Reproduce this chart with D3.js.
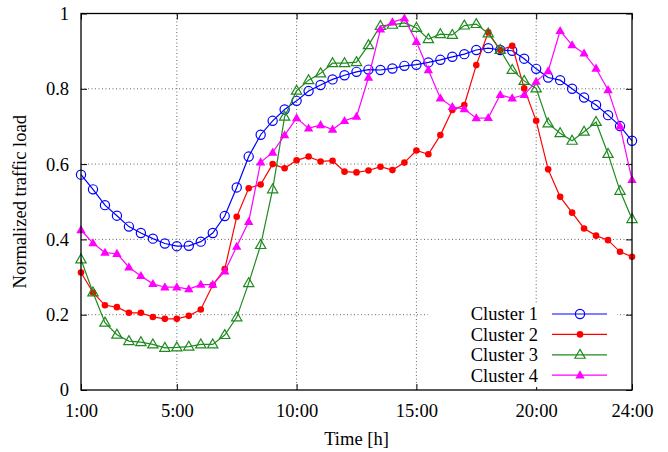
<!DOCTYPE html>
<html><head><meta charset="utf-8">
<script src="https://cdn.jsdelivr.net/npm/d3@7"></script>
<style>body{margin:0;background:#fff}svg{display:block}text{font-family:"Liberation Serif","Times New Roman",serif;fill:#000}</style>
</head><body>
<script>
const hours = [1,1.5,2,2.5,3,3.5,4,4.5,5,5.5,6,6.5,7,7.5,8,8.5,9,9.5,10,10.5,11,11.5,12,12.5,13,13.5,14,14.5,15,15.5,16,16.5,17,17.5,18,18.5,19,19.5,20,20.5,21,21.5,22,22.5,23,23.5,24];
const cluster1 = [0.572,0.533,0.491,0.463,0.434,0.417,0.402,0.389,0.382,0.383,0.394,0.417,0.462,0.538,0.620,0.678,0.715,0.745,0.768,0.794,0.810,0.825,0.836,0.845,0.851,0.850,0.854,0.861,0.864,0.870,0.877,0.885,0.892,0.903,0.908,0.903,0.901,0.880,0.853,0.830,0.823,0.800,0.777,0.757,0.730,0.701,0.662];
const cluster2 = [0.312,0.259,0.225,0.220,0.205,0.205,0.194,0.189,0.189,0.197,0.214,0.279,0.321,0.460,0.536,0.546,0.600,0.589,0.610,0.620,0.607,0.609,0.580,0.578,0.583,0.593,0.584,0.604,0.636,0.626,0.677,0.744,0.757,0.863,0.950,0.903,0.914,0.801,0.715,0.586,0.513,0.471,0.429,0.410,0.398,0.367,0.354];
const cluster3 = [0.347,0.259,0.179,0.147,0.130,0.127,0.121,0.112,0.113,0.115,0.121,0.121,0.146,0.193,0.284,0.385,0.533,0.726,0.795,0.823,0.841,0.868,0.868,0.871,0.916,0.967,0.970,0.975,0.962,0.932,0.945,0.943,0.968,0.972,0.947,0.903,0.850,0.821,0.801,0.708,0.682,0.662,0.686,0.712,0.627,0.529,0.454];
const cluster4 = [0.425,0.390,0.365,0.362,0.326,0.303,0.282,0.273,0.273,0.268,0.280,0.280,0.315,0.381,0.447,0.605,0.631,0.677,0.722,0.695,0.704,0.692,0.715,0.726,0.830,0.958,0.977,0.987,0.925,0.850,0.775,0.752,0.746,0.722,0.723,0.784,0.775,0.784,0.819,0.847,0.954,0.916,0.894,0.854,0.797,0.701,0.558];
const seriesNames = ["Cluster 1","Cluster 2","Cluster 3","Cluster 4"];
const xTicks = [1,5,10,15,20,24];
const xTickLabels = ["1:00","5:00","10:00","15:00","20:00","24:00"];
const yTicks = [0,0.2,0.4,0.6,0.8,1];
const yTickLabels = ["0","0.2","0.4","0.6","0.8","1"];

const W=668,H=452;
const L=81,R=632,T=13.5,B=390;
const fs=18.5;
const svg=d3.select("body").append("svg").attr("width",W).attr("height",H);
const x=d3.scaleLinear().domain([1,24]).range([L,R]);
const y=d3.scaleLinear().domain([0,1]).range([B,T]);

// grid
const grid=svg.append("g").attr("stroke","#666").attr("stroke-width",1).attr("stroke-dasharray","1,2.5");
xTicks.slice(1,-1).forEach(v=>grid.append("line").attr("x1",x(v)).attr("x2",x(v)).attr("y1",B).attr("y2",T));
yTicks.slice(1,-1).forEach(v=>grid.append("line").attr("x1",L).attr("x2",R).attr("y1",y(v)).attr("y2",y(v)));

// axes with inward ticks (mirrored)
const tl=6;
const axB=svg.append("g").attr("transform",`translate(0,${B})`).call(d3.axisBottom(x).tickValues(xTicks).tickSize(-tl).tickFormat((d,i)=>xTickLabels[i]).tickPadding(14));
const axT=svg.append("g").attr("transform",`translate(0,${T})`).call(d3.axisTop(x).tickValues(xTicks).tickSize(-tl).tickFormat(""));
const axL=svg.append("g").attr("transform",`translate(${L},0)`).call(d3.axisLeft(y).tickValues(yTicks).tickSize(-tl).tickFormat((d,i)=>yTickLabels[i]).tickPadding(12));
const axR=svg.append("g").attr("transform",`translate(${R},0)`).call(d3.axisRight(y).tickValues(yTicks).tickSize(-tl).tickFormat(""));
[axB,axT,axL,axR].forEach(a=>{a.select(".domain").remove();a.attr("font-family",null);a.selectAll("line").attr("stroke","#000").attr("stroke-width",1);a.selectAll("text").style("font-family",'"Liberation Serif",serif').style("font-size",fs+"px").attr("fill","#000");});

// legend background (opaque)
svg.append("rect").attr("x",428).attr("y",303).attr("width",189).attr("height",84).attr("fill","#fff");

const colors=["#0000ff","#ff0000","#1f8a1f","#ff00ff"];
const data=[cluster1,cluster2,cluster3,cluster4];
const line=d3.line().x((d,i)=>x(hours[i])).y(d=>y(d));
const triOpen=d3.symbol(d3.symbolTriangle,46)();
const triFill=d3.symbol(d3.symbolTriangle,38)();
function marker(g,k,cx,cy){
  const c=colors[k];
  if(k===0) g.append("circle").attr("cx",cx).attr("cy",cy).attr("r",4.6).attr("fill","none").attr("stroke",c).attr("stroke-width",1.2);
  else if(k===1) g.append("circle").attr("cx",cx).attr("cy",cy).attr("r",3.3).attr("fill",c);
  else if(k===2) g.append("path").attr("d",triOpen).attr("transform",`translate(${cx},${cy+0.5})`).attr("fill","none").attr("stroke",c).attr("stroke-width",1.2);
  else g.append("path").attr("d",triFill).attr("transform",`translate(${cx},${cy+0.5})`).attr("fill",c);
}
data.forEach((vals,k)=>{
  const g=svg.append("g");
  g.append("path").attr("d",line(vals)).attr("fill","none").attr("stroke",colors[k]).attr("stroke-width",1.2);
  vals.forEach((v,i)=>marker(g,k,x(hours[i]),y(v)));
});

// legend
const lg=svg.append("g");
seriesNames.forEach((n,k)=>{
  const yy=314+k*20.4;
  lg.append("text").attr("x",538).attr("y",yy).attr("dy","0.35em").attr("text-anchor","end").style("font-size",fs+"px").text(n);
  lg.append("line").attr("x1",552).attr("x2",607).attr("y1",yy).attr("y2",yy).attr("stroke",colors[k]).attr("stroke-width",1.2);
  marker(lg,k,580,yy);
});

// border
svg.append("rect").attr("x",L).attr("y",T).attr("width",R-L).attr("height",B-T).attr("fill","none").attr("stroke","#000").attr("stroke-width",1.3);

// titles
svg.append("text").attr("x",(L+R)/2).attr("y",445).attr("text-anchor","middle").style("font-size",fs+"px").text("Time [h]");
svg.append("text").attr("transform",`translate(26,${(T+B)/2}) rotate(-90)`).attr("text-anchor","middle").style("font-size",fs+"px").text("Normalized traffic load");
</script>
</body></html>
